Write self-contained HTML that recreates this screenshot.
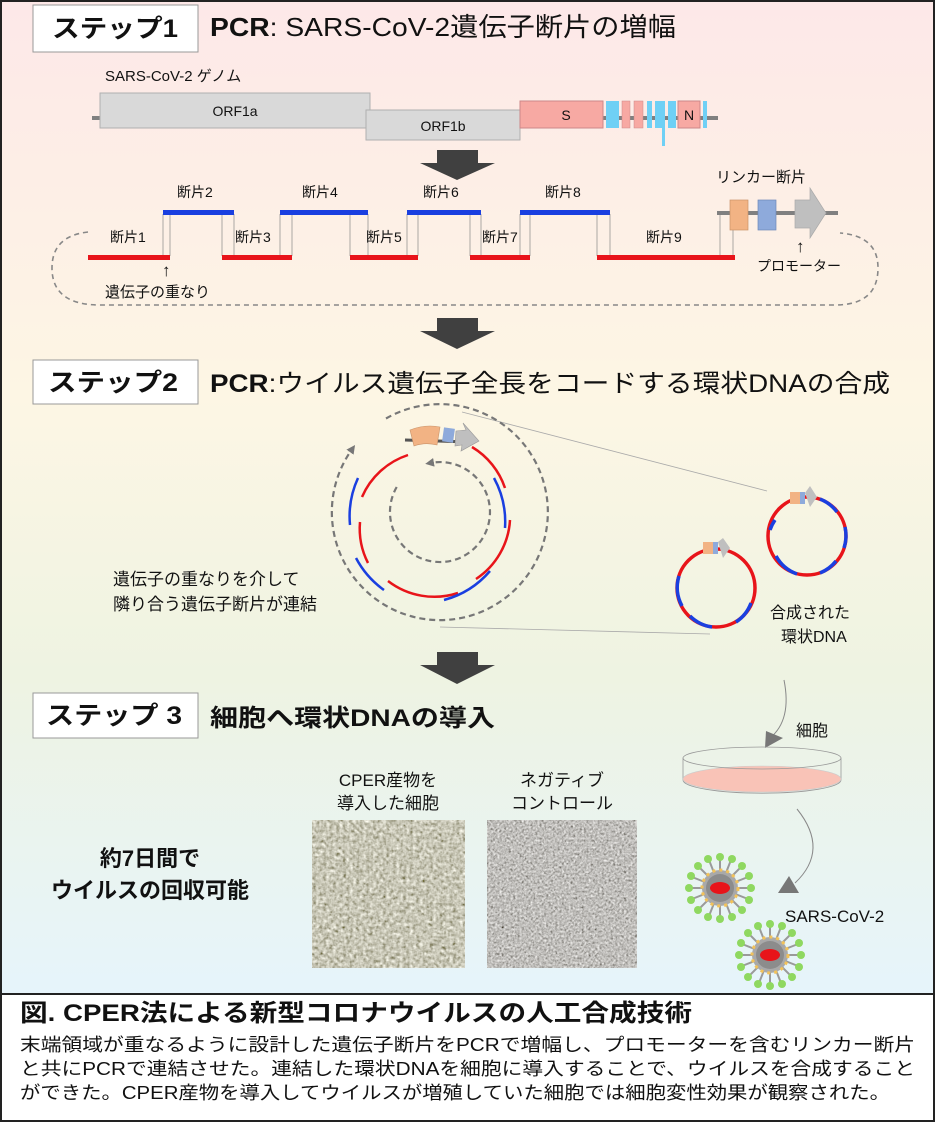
<!DOCTYPE html>
<html><head><meta charset="utf-8"><style>
html,body{margin:0;padding:0;background:#fff}
svg{display:block}
text{font-family:"Liberation Sans","Noto Sans CJK JP",sans-serif;fill:#111}
</style></head><body>
<svg width="935" height="1125" viewBox="0 0 935 1125" xmlns="http://www.w3.org/2000/svg">
<defs>
<linearGradient id="bg" x1="0" y1="0" x2="0" y2="1">
<stop offset="0" stop-color="#fde8e8"/>
<stop offset="0.4" stop-color="#fdf6e4"/>
<stop offset="0.68" stop-color="#eef3e2"/>
<stop offset="1" stop-color="#e6f4fb"/>
</linearGradient>
<filter id="n1" x="0" y="0" width="1" height="1"><feTurbulence type="fractalNoise" baseFrequency="0.3" numOctaves="2" seed="3"/><feColorMatrix type="matrix" values="0.55 0.55 0.55 0 -0.25  0.55 0.55 0.55 0 -0.26  0.55 0.55 0.55 0 -0.36  0 0 0 0 1"/></filter>
<filter id="n2" x="0" y="0" width="1" height="1"><feTurbulence type="fractalNoise" baseFrequency="0.45" numOctaves="2" seed="7"/><feColorMatrix type="matrix" values="0.55 0.55 0.55 0 -0.3  0.55 0.55 0.55 0 -0.31  0.55 0.55 0.55 0 -0.33  0 0 0 0 1"/></filter>
<marker id="ah" viewBox="0 0 10 10" refX="3" refY="5" markerWidth="4" markerHeight="4" orient="auto"><path d="M0,0 L10,5 L0,10z" fill="#777"/></marker>
<g id="virus">
<g stroke="#9a9a9a" stroke-width="2">
<line x1="0" y1="-30" x2="0" y2="30"/><line x1="-30" y1="0" x2="30" y2="0"/>
<line x1="-21" y1="-21" x2="21" y2="21"/><line x1="-21" y1="21" x2="21" y2="-21"/>
<line x1="-11" y1="-28" x2="11" y2="28"/><line x1="-28" y1="-11" x2="28" y2="11"/>
<line x1="-11" y1="28" x2="11" y2="-28"/><line x1="-28" y1="11" x2="28" y2="-11"/>
</g>
<g fill="#8fd860">
<circle cx="0" cy="-31" r="4"/><circle cx="0" cy="31" r="4"/><circle cx="-31" cy="0" r="4"/><circle cx="31" cy="0" r="4"/>
<circle cx="-22" cy="-22" r="4"/><circle cx="22" cy="22" r="4"/><circle cx="-22" cy="22" r="4"/><circle cx="22" cy="-22" r="4"/>
<circle cx="-12" cy="-29" r="4"/><circle cx="12" cy="29" r="4"/><circle cx="-29" cy="-12" r="4"/><circle cx="29" cy="12" r="4"/>
<circle cx="-12" cy="29" r="4"/><circle cx="12" cy="-29" r="4"/><circle cx="-29" cy="12" r="4"/><circle cx="29" cy="-12" r="4"/>
</g>
<circle r="18" fill="#a9a9a9" stroke="#f2c25a" stroke-width="3" stroke-dasharray="3 4"/>
<circle r="14" fill="#8c8c8c"/>
<ellipse rx="10" ry="6" fill="#e8141a"/>
</g>
</defs>
<rect x="1" y="1" width="933" height="993" fill="url(#bg)" stroke="#222" stroke-width="2"/>
<rect x="1" y="994" width="933" height="127" fill="#fff" stroke="#222" stroke-width="2"/>

<!-- STEP 1 -->
<rect x="33" y="5" width="165" height="47" fill="#fff" stroke="#999"/>
<text x="52" y="37" font-size="25" font-weight="bold" textLength="126" lengthAdjust="spacingAndGlyphs">ステップ1</text>
<text x="210" y="36" font-size="26" textLength="466" lengthAdjust="spacingAndGlyphs"><tspan font-weight="bold">PCR</tspan>: SARS-CoV-2遺伝子断片の増幅</text>

<text x="105" y="81" font-size="15">SARS-CoV-2 ゲノム</text>
<line x1="92" y1="118" x2="718" y2="118" stroke="#808080" stroke-width="4"/>
<rect x="100" y="93" width="270" height="35" fill="#d9d9d9" stroke="#b0b0b0"/>
<text x="235" y="116" font-size="14" text-anchor="middle">ORF1a</text>
<rect x="366" y="110" width="154" height="30" fill="#d9d9d9" stroke="#b0b0b0"/>
<text x="443" y="131" font-size="14" text-anchor="middle">ORF1b</text>
<rect x="520" y="101" width="83" height="27" fill="#f7a9a3" stroke="#c88"/>
<text x="566" y="120" font-size="14" text-anchor="middle">S</text>
<rect x="606" y="101" width="13" height="27" fill="#6fd0f5"/>
<rect x="622" y="101" width="8" height="27" fill="#f7a9a3" stroke="#c88" stroke-width="0.5"/>
<rect x="634" y="101" width="9" height="27" fill="#f7a9a3" stroke="#c88" stroke-width="0.5"/>
<rect x="647" y="101" width="5" height="27" fill="#6fd0f5"/>
<rect x="655" y="101" width="7" height="27" fill="#6fd0f5"/>
<rect x="662" y="101" width="3" height="45" fill="#6fd0f5"/>
<rect x="668" y="101" width="8" height="27" fill="#6fd0f5"/>
<rect x="678" y="101" width="22" height="27" fill="#f7a9a3" stroke="#c88"/>
<text x="689" y="120" font-size="14" text-anchor="middle">N</text>
<rect x="703" y="101" width="4" height="27" fill="#6fd0f5"/>

<path d="M437,150 H478 V163 H495 L457,180 L420,163 H437Z" fill="#404040"/>

<!-- fragments -->
<g stroke="#888" stroke-width="0.7">
<line x1="163" y1="214" x2="163" y2="256"/><line x1="170" y1="214" x2="170" y2="256"/>
<line x1="222" y1="214" x2="222" y2="256"/><line x1="234" y1="214" x2="234" y2="256"/>
<line x1="280" y1="214" x2="280" y2="256"/><line x1="292" y1="214" x2="292" y2="256"/>
<line x1="350" y1="214" x2="350" y2="256"/><line x1="368" y1="214" x2="368" y2="256"/>
<line x1="407" y1="214" x2="407" y2="256"/><line x1="418" y1="214" x2="418" y2="256"/>
<line x1="470" y1="214" x2="470" y2="256"/><line x1="481" y1="214" x2="481" y2="256"/>
<line x1="520" y1="214" x2="520" y2="256"/><line x1="530" y1="214" x2="530" y2="256"/>
<line x1="597" y1="214" x2="597" y2="256"/><line x1="610" y1="214" x2="610" y2="256"/>
<line x1="720" y1="214" x2="720" y2="256"/><line x1="733" y1="214" x2="733" y2="256"/>
</g>
<g fill="#e8141a">
<rect x="88" y="255" width="82" height="5"/><rect x="222" y="255" width="70" height="5"/>
<rect x="350" y="255" width="68" height="5"/><rect x="470" y="255" width="60" height="5"/>
<rect x="597" y="255" width="138" height="5"/>
</g>
<g fill="#1a3fe0">
<rect x="163" y="210" width="71" height="5"/><rect x="280" y="210" width="88" height="5"/>
<rect x="407" y="210" width="74" height="5"/><rect x="520" y="210" width="90" height="5"/>
</g>
<g font-size="14">
<text x="110" y="242">断片1</text><text x="177" y="197">断片2</text>
<text x="235" y="242">断片3</text><text x="302" y="197">断片4</text>
<text x="366" y="242">断片5</text><text x="423" y="197">断片6</text>
<text x="482" y="242">断片7</text><text x="545" y="197">断片8</text>
<text x="646" y="242">断片9</text>
</g>
<line x1="717" y1="213" x2="838" y2="213" stroke="#808080" stroke-width="4"/>
<rect x="730" y="200" width="18" height="30" fill="#f2b384" stroke="#c9936a" stroke-width="0.7"/>
<rect x="758" y="200" width="18" height="30" fill="#8eaadb" stroke="#6e88b8" stroke-width="0.7"/>
<path d="M795,200 H810 V188 L826,213 L810,238 V228 H795Z" fill="#bfbfbf" stroke="#aaa" stroke-width="0.7"/>
<text x="716" y="182" font-size="15">リンカー断片</text>
<text x="796" y="252" font-size="17">↑</text>
<text x="757" y="271" font-size="14">プロモーター</text>
<text x="162" y="276" font-size="17">↑</text>
<text x="105" y="297" font-size="15">遺伝子の重なり</text>
<path d="M88,232 Q52,236 52,268 Q52,305 100,305 L835,305 Q878,305 878,268 Q878,236 840,233" fill="none" stroke="#888" stroke-width="1.6" stroke-dasharray="5 4"/>

<path d="M437,318 H478 V331 H495 L457,349 L420,331 H437Z" fill="#404040"/>

<!-- STEP 2 -->
<rect x="33" y="360" width="165" height="44" fill="#fff" stroke="#999"/>
<text x="48" y="391" font-size="25" font-weight="bold" textLength="130" lengthAdjust="spacingAndGlyphs">ステップ2</text>
<text x="210" y="392" font-size="25" textLength="680" lengthAdjust="spacingAndGlyphs"><tspan font-weight="bold">PCR</tspan>:ウイルス遺伝子全長をコードする環状DNAの合成</text>

<line x1="462" y1="412" x2="767" y2="491" stroke="#aaa" stroke-width="0.8"/>
<line x1="440" y1="627" x2="710" y2="634" stroke="#aaa" stroke-width="0.8"/>
<g fill="none">
<path d="M386,418.5 A108,108 0 1 1 351.5,450" stroke="#777" stroke-width="2.2" stroke-dasharray="6 4" marker-end="url(#ah)"/>
<path d="M396.7,487 A50,50 0 1 0 431.3,462.8" stroke="#777" stroke-width="2.2" stroke-dasharray="6 4" marker-end="url(#ah)"/>
<g stroke="#e8141a" stroke-width="2.5">
<path d="M408,455 A76,76 0 0 0 362,497"/>
<path d="M360,522 A76,76 0 0 0 368,563"/>
<path d="M388,581 A76,76 0 0 0 458,593"/>
<path d="M476,579 A76,76 0 0 0 510,520"/>
<path d="M472,447 A76,76 0 0 1 505,488"/>
</g>
<g stroke="#1a3fe0" stroke-width="2.5">
<path d="M358,478 A92,92 0 0 0 350,525"/>
<path d="M356,558 A92,92 0 0 0 384,590"/>
<path d="M444,600 A92,92 0 0 0 490,571"/>
<path d="M494,478 A92,92 0 0 1 505,528"/>
</g>
</g>
<line x1="405" y1="440" x2="470" y2="442" stroke="#555" stroke-width="3"/>
<path d="M410,430 Q425,424 440,427 L437,445 Q425,442 414,446Z" fill="#f2b384" stroke="#c9936a" stroke-width="0.6"/>
<rect x="443" y="428" width="11" height="14" fill="#8eaadb" transform="rotate(8 448 435)"/>
<path d="M456,431 L466,430 L463,423 L479,441 L461,451 L462,445 L455,446Z" fill="#bfbfbf" stroke="#999" stroke-width="0.6"/>

<text x="113" y="585" font-size="17">遺伝子の重なりを介して</text>
<text x="113" y="610" font-size="17">隣り合う遺伝子断片が連結</text>

<g fill="none" stroke-width="3.5">
<circle cx="716" cy="588" r="39" stroke="#e8141a"/>
<path d="M679,576 A39,39 0 0 0 682,606" stroke="#1a3fe0"/>
<path d="M690,616 A39,39 0 0 0 712,627" stroke="#1a3fe0"/>
<path d="M736,622 A39,39 0 0 0 751,603" stroke="#1a3fe0"/>
<circle cx="807" cy="536" r="39" stroke="#e8141a"/>
<path d="M845,527 A39,39 0 0 1 844,548" stroke="#1a3fe0"/>
<path d="M770,530 A39,39 0 0 1 775,520" stroke="#1a3fe0"/>
<path d="M776,556 A39,39 0 0 0 797,574" stroke="#1a3fe0"/>
<path d="M820,573 A39,39 0 0 0 836,561" stroke="#1a3fe0"/>
<path d="M820,499 A39,39 0 0 1 837,512" stroke="#1a3fe0"/>
</g>
<rect x="703" y="542" width="10" height="12" fill="#f2b384"/><rect x="713" y="542" width="5" height="12" fill="#8eaadb"/><path d="M718,542 L723,538 L730,548 L723,558Z" fill="#bfbfbf"/>
<rect x="790" y="492" width="10" height="12" fill="#f2b384"/><rect x="800" y="492" width="5" height="12" fill="#8eaadb"/><path d="M805,493 L810,486 L817,497 L810,507Z" fill="#bfbfbf"/>
<text x="770" y="618" font-size="16">合成された</text>
<text x="781" y="642" font-size="16">環状DNA</text>

<path d="M437,652 H478 V665 H495 L457,684 L420,665 H437Z" fill="#404040"/>

<!-- STEP 3 -->
<rect x="33" y="693" width="165" height="45" fill="#fff" stroke="#999"/>
<text x="46" y="724" font-size="25" font-weight="bold" textLength="136" lengthAdjust="spacingAndGlyphs">ステップ 3</text>
<text x="210" y="726" font-size="24" font-weight="bold" textLength="285" lengthAdjust="spacingAndGlyphs">細胞へ環状DNAの導入</text>

<path d="M784,680 Q792,720 770,738" fill="none" stroke="#888" stroke-width="1"/>
<path d="M765,748 L766,731 L783,738Z" fill="#777"/>
<text x="796" y="736" font-size="16">細胞</text>
<path d="M683,758 V780 A78,13 0 0 0 841,780 V758" fill="none" stroke="#999" stroke-width="0.8"/>
<ellipse cx="762" cy="779" rx="79" ry="13" fill="#f9c3b7" stroke="#ccc" stroke-width="0.6"/>
<ellipse cx="762" cy="758" rx="79" ry="11" fill="none" stroke="#999" stroke-width="0.8"/>
<path d="M797,809 Q830,850 795,883" fill="none" stroke="#888" stroke-width="1"/>
<path d="M778,893 L789,876 L799,893Z" fill="#777"/>
<use href="#virus" x="720" y="888"/>
<use href="#virus" x="770" y="955"/>
<text x="785" y="922" font-size="17">SARS-CoV-2</text>

<text x="388" y="786" font-size="17" text-anchor="middle">CPER産物を</text>
<text x="388" y="809" font-size="17" text-anchor="middle">導入した細胞</text>
<text x="562" y="786" font-size="17" text-anchor="middle">ネガティブ</text>
<text x="562" y="809" font-size="17" text-anchor="middle">コントロール</text>
<rect x="312" y="820" width="153" height="148" filter="url(#n1)"/>
<rect x="487" y="820" width="150" height="148" filter="url(#n2)"/>
<text x="150" y="866" font-size="22" font-weight="bold" text-anchor="middle">約7日間で</text>
<text x="150" y="898" font-size="22" font-weight="bold" text-anchor="middle">ウイルスの回収可能</text>

<!-- caption -->
<text x="20" y="1021" font-size="24" font-weight="bold" textLength="672" lengthAdjust="spacingAndGlyphs">図. CPER法による新型コロナウイルスの人工合成技術</text>
<text x="20" y="1051" font-size="18" textLength="895" lengthAdjust="spacingAndGlyphs">末端領域が重なるように設計した遺伝子断片をPCRで増幅し、プロモーターを含むリンカー断片</text>
<text x="20" y="1075" font-size="18" textLength="895" lengthAdjust="spacingAndGlyphs">と共にPCRで連結させた。連結した環状DNAを細胞に導入することで、ウイルスを合成すること</text>
<text x="20" y="1099" font-size="18" textLength="870" lengthAdjust="spacingAndGlyphs">ができた。CPER産物を導入してウイルスが増殖していた細胞では細胞変性効果が観察された。</text>
</svg>
</body></html>
